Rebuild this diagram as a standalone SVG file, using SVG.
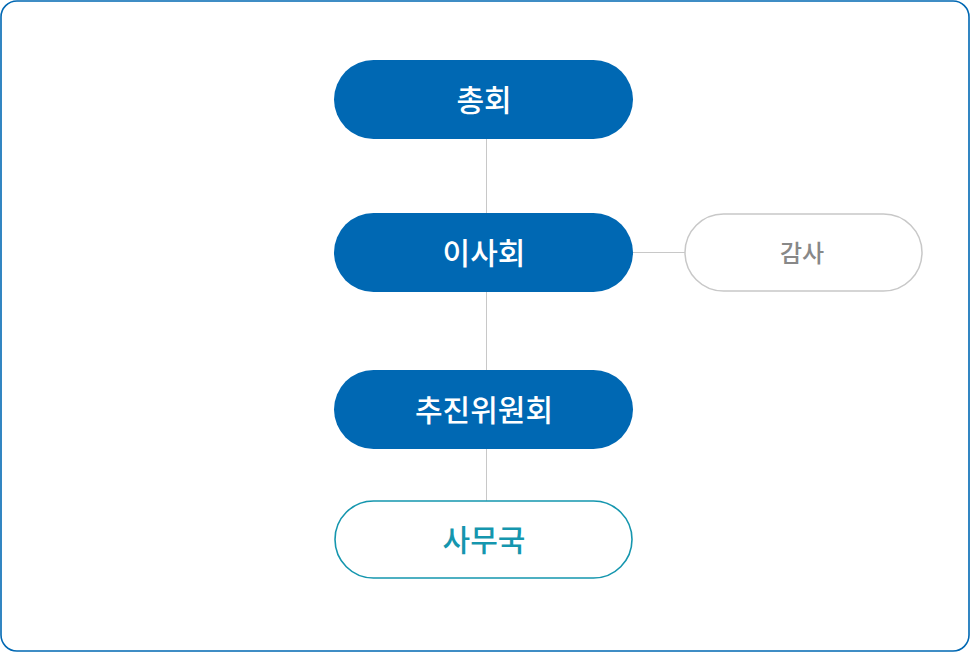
<svg xmlns="http://www.w3.org/2000/svg" width="970" height="652" viewBox="0 0 970 652">
<style>
.t{font-family:"Noto Sans CJK KR","Noto Sans",sans-serif;text-anchor:middle;dominant-baseline:central;font-weight:500}
.fill{fill:#0068b3}
.w{fill:#fff;font-size:30px}
.con{stroke:#c8c8c8;stroke-width:1;fill:none}
</style>
<rect x="1" y="1" width="968" height="650" rx="16" fill="#fff" stroke="#0068b3" stroke-width="1.6"/>
<g id="connectors">
<line class="con" x1="486.5" y1="139" x2="486.5" y2="213"/>
<line class="con" x1="486.5" y1="292" x2="486.5" y2="370"/>
<line class="con" x1="486.5" y1="449" x2="486.5" y2="501"/>
<line class="con" x1="633" y1="252.5" x2="685" y2="252.5"/>
</g>
<g id="node-chonghoe">
<rect class="fill" x="334" y="60" width="299" height="79" rx="39.5"/>
<text class="t w" x="484" y="98">총회</text>
</g>
<g id="node-isahoe">
<rect class="fill" x="334" y="213" width="299" height="79" rx="39.5"/>
<text class="t w" x="484" y="251">이사회</text>
</g>
<g id="node-gamsa">
<rect x="685" y="214" width="237" height="77" rx="38.5" fill="#fff" stroke="#c8c8c8" stroke-width="1.5"/>
<text class="t" x="802" y="251" font-size="24" fill="#888">감사</text>
</g>
<g id="node-chujin">
<rect class="fill" x="334" y="370" width="299" height="79" rx="39.5"/>
<text class="t w" x="484" y="408">추진위원회</text>
</g>
<g id="node-samuguk">
<rect x="335" y="501" width="297" height="77" rx="38.5" fill="#fff" stroke="#1596ae" stroke-width="1.6"/>
<text class="t" x="484" y="538" font-size="30" fill="#1596ae">사무국</text>
</g>
</svg>
